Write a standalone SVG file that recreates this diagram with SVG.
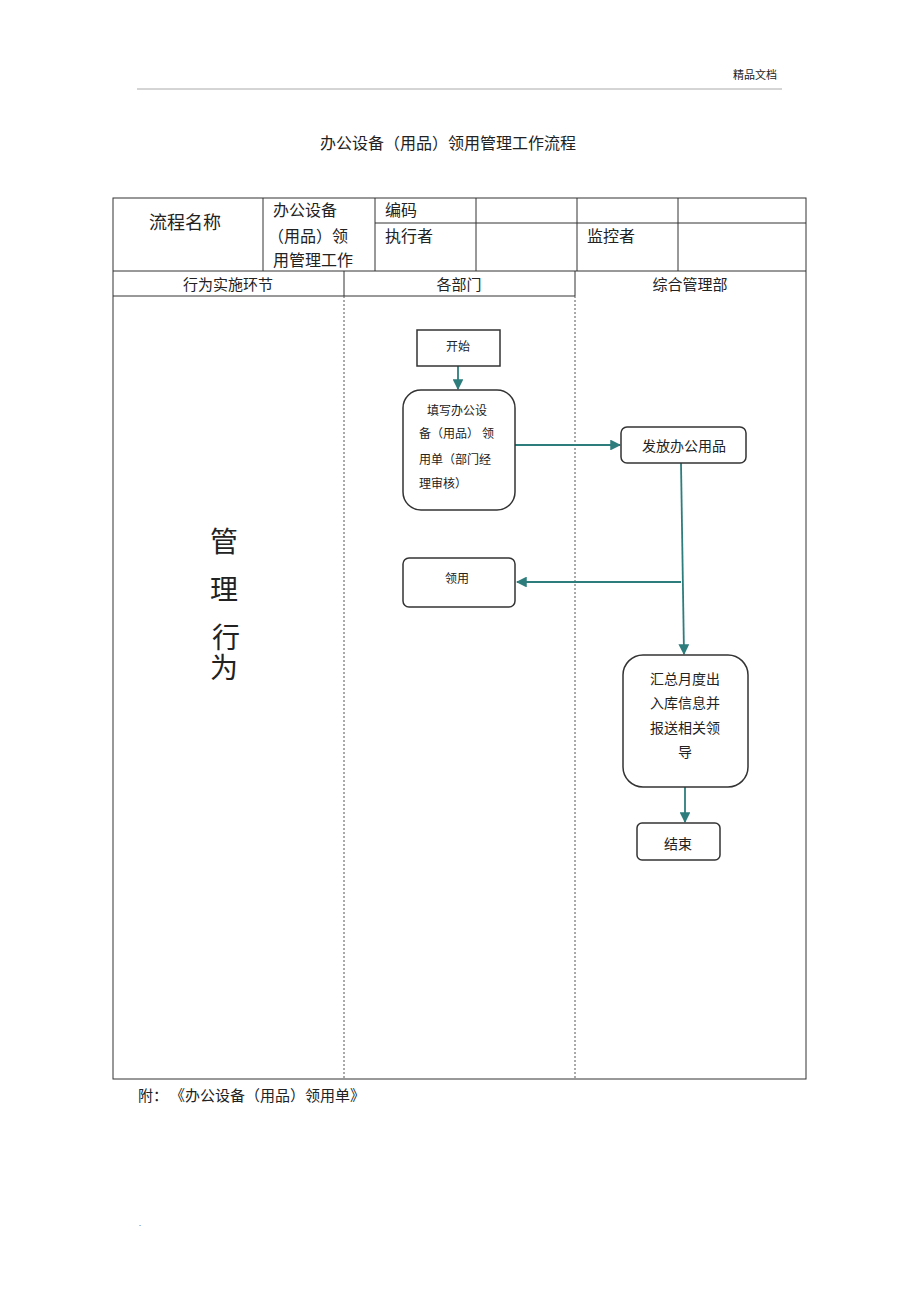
<svg xmlns="http://www.w3.org/2000/svg" width="920" height="1303" viewBox="0 0 920 1303">
<style>
text{font-family:"Liberation Serif","Noto Sans CJK SC",serif;fill:#222}
.grid{stroke:#333;stroke-width:1;fill:none}
.dot{stroke:#555;stroke-width:1;stroke-dasharray:2,2;fill:none}
.node{fill:#fff;stroke:#333;stroke-width:1.5}
.conn{stroke:#2e7d7d;stroke-width:1.8;fill:none}
.c{text-anchor:middle}
</style>
<defs>
<marker id="ah" viewBox="0 0 10 10" refX="9" refY="5" markerWidth="6" markerHeight="6" orient="auto" markerUnits="strokeWidth">
<path d="M0,0 L10,5 L0,10 z" fill="#2e7d7d"/>
</marker>
</defs>
<rect width="920" height="1303" fill="#fff"/>
<text x="777" y="79" font-size="11" text-anchor="end" fill="#555">精品文档</text>
<line x1="137" y1="89" x2="782" y2="89" stroke="#aaa" stroke-width="1"/>
<text x="448" y="149" font-size="16" class="c">办公设备（用品）领用管理工作流程</text>
<g id="table">
<rect x="113" y="198" width="693" height="881" class="grid"/>
<line x1="263" y1="198" x2="263" y2="271" class="grid"/>
<line x1="375" y1="198" x2="375" y2="271" class="grid"/>
<line x1="476" y1="198" x2="476" y2="271" class="grid"/>
<line x1="577" y1="198" x2="577" y2="271" class="grid"/>
<line x1="678" y1="198" x2="678" y2="271" class="grid"/>
<line x1="375" y1="223" x2="806" y2="223" class="grid"/>
<line x1="113" y1="271" x2="806" y2="271" class="grid"/>
<line x1="113" y1="296" x2="575" y2="296" class="grid"/>
<line x1="344" y1="271" x2="344" y2="296" class="grid"/>
<line x1="575" y1="271" x2="575" y2="296" class="grid"/>
<line x1="344" y1="296" x2="344" y2="1079" class="dot"/>
<line x1="575" y1="296" x2="575" y2="1079" class="dot"/>
<text x="185" y="229" font-size="18" class="c">流程名称</text>
<text x="273" y="216" font-size="16">办公设备</text>
<text x="268" y="242" font-size="16">（用品）领</text>
<text x="273" y="266" font-size="16">用管理工作</text>
<text x="385" y="216" font-size="16">编码</text>
<text x="385" y="242" font-size="16">执行者</text>
<text x="587" y="242" font-size="16">监控者</text>
<text x="228" y="290" font-size="15" class="c">行为实施环节</text>
<text x="459" y="290" font-size="15" class="c">各部门</text>
<text x="690" y="290" font-size="15" class="c">综合管理部</text>
<text x="224" y="552" font-size="28" class="c">管</text>
<text x="224" y="600" font-size="28" class="c">理</text>
<text x="226" y="648" font-size="28" class="c">行</text>
<text x="224" y="678" font-size="28" class="c">为</text>
</g>
<g id="connectors">
<line x1="458" y1="366" x2="458" y2="389" class="conn" marker-end="url(#ah)"/>
<line x1="515" y1="445" x2="620" y2="445" class="conn" marker-end="url(#ah)"/>
<line x1="681" y1="463" x2="684" y2="654" class="conn" marker-end="url(#ah)"/>
<line x1="681" y1="582" x2="517" y2="582" class="conn" marker-end="url(#ah)"/>
<line x1="685" y1="787" x2="685" y2="822" class="conn" marker-end="url(#ah)"/>
</g>
<g id="start">
<rect x="417" y="330" width="83" height="36" class="node" stroke-width="1"/>
<text x="458" y="351" font-size="12" class="c">开始</text>
</g>
<g id="fill-form">
<rect x="403" y="390" width="112" height="120" rx="18" class="node"/>
<text x="457" y="415" font-size="12" class="c">填写办公设</text>
<text x="419" y="438" font-size="12">备（用品） 领</text>
<text x="419" y="464" font-size="12">用单（部门经</text>
<text x="419" y="488" font-size="12">理审核）</text>
</g>
<g id="issue">
<rect x="621" y="427" width="125" height="36" rx="6" class="node"/>
<text x="684" y="451" font-size="14" class="c">发放办公用品</text>
</g>
<g id="receive">
<rect x="403" y="558" width="112" height="49" rx="6" class="node"/>
<text x="457" y="583" font-size="12" class="c">领用</text>
</g>
<g id="summary">
<rect x="623" y="655" width="125" height="132" rx="20" class="node"/>
<text x="685" y="684" font-size="14" class="c">汇总月度出</text>
<text x="685" y="708" font-size="14" class="c">入库信息并</text>
<text x="685" y="733" font-size="14" class="c">报送相关领</text>
<text x="685" y="757" font-size="14" class="c">导</text>
</g>
<g id="end">
<rect x="637" y="823" width="83" height="37" rx="5" class="node"/>
<text x="678" y="849" font-size="14" class="c">结束</text>
</g>
<text x="138" y="1101" font-size="15">附：</text>
<text x="170" y="1101" font-size="15">《办公设备（用品）领用单》</text>
<text x="139" y="1226" font-size="8">.</text>
</svg>
